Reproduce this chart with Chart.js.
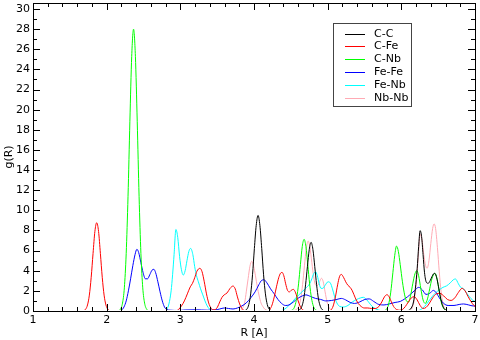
<!DOCTYPE html>
<html>
<head>
<meta charset="utf-8">
<script src="https://cdn.jsdelivr.net/npm/chart.js@4.4.1/dist/chart.umd.min.js"></script>
<style>
html,body{margin:0;padding:0;background:#fff;}
canvas{display:block;}
</style>
</head>
<body>
<canvas id="c" width="480" height="340"></canvas>
<script>
// ---- tick labels ----
const xTicks = [1, 2, 3, 4, 5, 6, 7];
const yTicks = [0, 2, 4, 6, 8, 10, 12, 14, 16, 18, 20, 22, 24, 26, 28, 30];
const xRange = [1, 7];
const yRange = [0, 30.6];

// ---- series: [R, g(R)] ----
const labels = ['C-C', 'C-Fe', 'C-Nb', 'Fe-Fe', 'Fe-Nb', 'Nb-Nb'];
const colors = ['#000000', '#ff0000', '#00ff00', '#0000ff', '#00ffff', 'rgb(255,170,180)'];

const CC = [[1.0,0],[3.855,0],[3.875,0.04],[3.905,0.2],[3.93,0.65],[3.955,1.7],[3.98,3.6],[4.005,6.2],[4.03,8.5],[4.055,9.5],[4.08,8.5],[4.105,6.2],[4.13,3.6],[4.155,1.7],[4.18,0.65],[4.205,0.2],[4.235,0.04],[4.275,0],
 [4.575,0],[4.595,0.03],[4.625,0.14],[4.65,0.47],[4.675,1.2],[4.70,2.6],[4.725,4.4],[4.75,6.1],[4.775,6.82],[4.80,6.1],[4.825,4.4],[4.85,2.6],[4.875,1.2],[4.90,0.47],[4.925,0.14],[4.955,0.03],[4.995,0],
 [6.075,0],[6.095,0.05],[6.135,0.3],[6.165,0.9],[6.19,2.2],[6.215,4.2],[6.235,6.4],[6.255,7.98],[6.275,7.4],[6.295,5.6],[6.315,3.8],[6.34,2.85],[6.365,2.75],[6.39,3.0],[6.415,3.4],[6.435,3.68],[6.455,3.74],[6.48,3.3],[6.505,2.4],[6.53,1.4],[6.555,0.65],[6.58,0.25],[6.605,0.07],[6.645,0],[7.0,0]];

const CFe = [[1.0,0],[1.655,0],[1.685,0.03],[1.715,0.18],[1.74,0.6],[1.765,1.58],[1.79,3.35],[1.815,5.7],[1.84,7.9],[1.865,8.77],[1.89,7.9],[1.915,5.7],[1.94,3.35],[1.965,1.58],[1.99,0.6],[2.015,0.18],[2.045,0.03],[2.085,0],
 [2.935,0],[2.975,0.15],[3.015,0.5],[3.055,1.0],[3.095,1.7],[3.135,2.4],[3.165,2.75],[3.195,3.3],[3.225,3.95],[3.265,4.24],[3.295,3.9],[3.325,2.9],[3.355,1.7],[3.385,0.8],[3.415,0.3],[3.445,0.12],[3.475,0.15],[3.505,0.4],[3.535,0.9],[3.565,1.35],[3.595,1.6],[3.635,1.8],[3.675,2.25],[3.715,2.48],[3.745,2.2],[3.775,1.4],[3.805,0.7],[3.835,0.25],[3.865,0.05],[3.915,0],
 [4.185,0],[4.215,0.15],[4.245,0.6],[4.275,1.4],[4.305,2.4],[4.335,3.3],[4.36,3.75],[4.38,3.84],[4.405,3.5],[4.43,2.7],[4.455,2.05],[4.48,1.9],[4.505,2.05],[4.535,2.15],[4.565,1.8],[4.595,1.1],[4.625,0.5],[4.655,0.15],[4.695,0.02],[4.735,0],
 [5.015,0],[5.045,0.1],[5.075,0.5],[5.105,1.4],[5.135,2.6],[5.16,3.4],[5.185,3.64],[5.215,3.35],[5.245,2.9],[5.275,2.55],[5.305,2.35],[5.335,2.0],[5.375,1.3],[5.415,0.75],[5.455,0.45],[5.495,0.3],[5.545,0.3],[5.595,0.25],[5.645,0.25],[5.695,0.45],[5.735,0.9],[5.77,1.4],[5.805,1.62],[5.835,1.4],[5.865,0.9],[5.895,0.45],[5.935,0.15],[5.975,0.08],[6.015,0.15],[6.055,0.45],[6.095,0.9],[6.135,1.3],[6.175,1.42],[6.215,1.1],[6.255,0.55],[6.295,0.25],[6.335,0.35],[6.375,0.7],[6.425,1.3],[6.475,1.7],[6.525,1.75],[6.575,1.5],[6.625,1.15],[6.675,1.05],[6.725,1.3],[6.775,1.85],[6.825,2.25],[6.865,2.0],[6.905,1.45],[6.945,0.95],[6.985,0.55],[7.0,0.45]];

const CNb = [[1.0,0],[2.145,0],[2.185,0.16],[2.215,0.78],[2.24,2.3],[2.265,5.7],[2.29,11.4],[2.315,18.8],[2.34,25.3],[2.365,28.0],[2.39,25.3],[2.415,18.8],[2.44,11.4],[2.465,5.7],[2.49,2.3],[2.515,0.78],[2.545,0.16],[2.585,0],
 [4.475,0],[4.50,0.04],[4.53,0.15],[4.555,0.5],[4.58,1.3],[4.605,2.7],[4.63,4.6],[4.655,6.4],[4.68,7.12],[4.705,6.4],[4.73,4.6],[4.755,2.7],[4.78,1.3],[4.805,0.5],[4.83,0.15],[4.86,0.04],[4.895,0],
 [5.735,0],[5.765,0.03],[5.795,0.15],[5.825,0.6],[5.855,1.8],[5.885,3.8],[5.91,5.5],[5.935,6.45],[5.96,5.9],[5.985,4.6],[6.015,2.9],[6.045,1.6],[6.075,0.95],[6.10,0.9],[6.125,1.5],[6.155,2.7],[6.185,3.7],[6.21,4.0],[6.235,3.5],[6.265,2.2],[6.295,1.1],[6.325,0.75],[6.355,1.2],[6.385,2.2],[6.415,3.2],[6.455,3.74],[6.485,3.2],[6.515,1.9],[6.545,0.8],[6.575,0.25],[6.605,0.06],[6.645,0],[7.0,0]];

const FeFe = [[1.0,0],[2.165,0],[2.205,0.1],[2.235,0.4],[2.265,1.0],[2.295,2.0],[2.325,3.2],[2.355,4.5],[2.385,5.6],[2.41,6.13],[2.435,5.8],[2.465,4.8],[2.495,3.8],[2.525,3.2],[2.555,3.2],[2.585,3.6],[2.615,4.05],[2.64,4.14],[2.665,3.8],[2.695,2.9],[2.725,1.9],[2.755,1.0],[2.785,0.4],[2.815,0.15],[2.865,0.08],[2.965,0.05],[3.065,0.1],[3.215,0.12],[3.365,0.08],[3.465,0.1],[3.535,0.2],[3.595,0.3],[3.655,0.25],[3.715,0.2],[3.775,0.3],[3.835,0.5],[3.895,0.8],[3.955,1.3],[4.015,1.9],[4.065,2.6],[4.105,3.05],[4.135,3.1],[4.175,2.8],[4.225,2.2],[4.275,1.7],[4.325,1.15],[4.375,0.75],[4.425,0.55],[4.475,0.6],[4.535,0.9],[4.595,1.25],[4.655,1.5],[4.705,1.6],[4.765,1.45],[4.835,1.25],[4.905,1.15],[4.975,1.0],[5.055,1.05],[5.125,1.15],[5.185,1.25],[5.245,1.1],[5.305,0.85],[5.365,0.75],[5.435,0.9],[5.505,1.15],[5.565,1.2],[5.625,0.95],[5.695,0.65],[5.765,0.6],[5.835,0.7],[5.915,0.85],[5.985,0.95],[6.055,1.25],[6.115,1.6],[6.175,2.0],[6.235,2.35],[6.285,2.1],[6.335,1.65],[6.385,1.75],[6.435,2.05],[6.475,1.8],[6.525,1.2],[6.575,0.75],[6.635,0.55],[6.715,0.55],[6.785,0.65],[6.845,0.7],[6.915,0.6],[6.975,0.5],[7.0,0.5]];

const FeNb = [[1.0,0],[2.785,0],[2.815,0.15],[2.845,0.7],[2.875,2.0],[2.895,3.6],[2.915,5.6],[2.94,8.1],[2.965,7.3],[2.99,5.4],[3.015,4.1],[3.04,3.57],[3.065,4.0],[3.09,5.0],[3.115,5.9],[3.14,6.22],[3.17,5.6],[3.195,4.4],[3.22,3.5],[3.245,2.9],[3.275,2.2],[3.305,1.6],[3.335,1.0],[3.365,0.5],[3.395,0.2],[3.435,0.05],[3.475,0],
 [4.355,0],[4.395,0.1],[4.445,0.35],[4.495,0.7],[4.555,1.2],[4.615,1.65],[4.665,2.0],[4.715,2.35],[4.755,2.7],[4.785,3.2],[4.81,3.7],[4.835,3.9],[4.86,3.5],[4.885,2.7],[4.91,2.25],[4.935,2.25],[4.965,2.55],[5.005,2.9],[5.035,2.8],[5.065,2.2],[5.095,1.4],[5.125,0.8],[5.165,0.45],[5.215,0.4],[5.275,0.55],[5.335,0.9],[5.395,1.15],[5.445,1.3],[5.485,1.36],[5.525,1.15],[5.565,0.8],[5.605,0.45],[5.655,0.2],[5.715,0.05],[5.775,0],
 [6.215,0],[6.265,0.15],[6.315,0.45],[6.365,0.9],[6.415,1.4],[6.465,1.8],[6.515,2.1],[6.565,2.35],[6.615,2.5],[6.665,2.8],[6.705,3.1],[6.735,3.18],[6.775,2.7],[6.805,2.35],[6.845,2.2],[6.885,1.8],[6.925,1.4],[6.965,1.1],[7.0,0.95]];

const NbNb = [[1.0,0],[3.795,0],[3.825,0.1],[3.85,0.35],[3.875,0.9],[3.895,1.9],[3.92,3.2],[3.945,4.45],[3.97,4.95],[3.995,4.45],[4.02,3.5],[4.045,2.4],[4.07,1.5],[4.095,0.8],[4.12,0.45],[4.145,0.2],[4.185,0.05],[4.225,0],
 [4.515,0],[4.545,0.05],[4.575,0.15],[4.61,0.5],[4.635,1.25],[4.66,2.65],[4.685,4.5],[4.71,6.2],[4.735,6.95],[4.76,6.3],[4.785,4.8],[4.81,3.4],[4.835,2.6],[4.865,2.55],[4.89,2.9],[4.915,3.25],[4.94,2.9],[4.965,1.9],[4.99,0.95],[5.015,0.4],[5.045,0.12],[5.085,0],
 [6.095,0],[6.125,0.1],[6.155,0.45],[6.18,1.3],[6.205,3.0],[6.23,5.4],[6.255,7.6],[6.28,7.1],[6.305,5.6],[6.33,4.5],[6.35,4.25],[6.375,5.0],[6.40,6.7],[6.425,8.2],[6.445,8.65],[6.465,8.2],[6.49,6.3],[6.515,3.9],[6.54,1.9],[6.565,0.75],[6.59,0.25],[6.625,0.05],[6.665,0],[7.0,0]];

const series = [CC, CFe, CNb, FeFe, FeNb, NbNb];

const FONT = 'DejaVu Sans';

// frame, inward ticks and legend box
const decor = {
  id: 'decor',
  afterDatasetsDraw(chart) {
    const {ctx, chartArea: a, scales: {x, y}} = chart;
    ctx.save();
    ctx.strokeStyle = '#000';
    ctx.lineWidth = 1;
    ctx.beginPath();
    for (let i = 0; i <= 30; i++) {
      const v = xRange[0] + i * 0.2;
      const px = Math.round(x.getPixelForValue(v)) + 0.5;
      const len = (i % 5 === 0) ? 7 : 4;
      ctx.moveTo(px, a.bottom); ctx.lineTo(px, a.bottom - len);
      ctx.moveTo(px, a.top); ctx.lineTo(px, a.top + len);
    }
    for (let v = 0; v <= 30; v++) {
      const py = Math.round(y.getPixelForValue(v)) + 0.5;
      const len = (v % 2 === 0) ? 7 : 4;
      ctx.moveTo(a.left, py); ctx.lineTo(a.left + len, py);
      ctx.moveTo(a.right, py); ctx.lineTo(a.right - len, py);
    }
    ctx.stroke();
    ctx.strokeRect(Math.round(a.left) + 0.5, Math.round(a.top) + 0.5,
                   Math.round(a.right - a.left), Math.round(a.bottom - a.top));
    // legend
    const bx = 333.5, by = 23.5, bw = 78, bh = 83;
    ctx.fillStyle = '#fff';
    ctx.fillRect(bx, by, bw, bh);
    ctx.strokeStyle = '#444';
    ctx.strokeRect(bx, by, bw, bh);
    ctx.font = '11px "' + FONT + '"';
    ctx.textBaseline = 'middle';
    ctx.textAlign = 'left';
    chart.data.datasets.forEach((ds, i) => {
      const ry = Math.round(by + 10 + i * 12.8) + 0.5;
      ctx.strokeStyle = ds.borderColor;
      ctx.beginPath();
      ctx.moveTo(345, ry); ctx.lineTo(365, ry);
      ctx.stroke();
      ctx.fillStyle = '#000';
      ctx.fillText(ds.label, 374, ry);
    });
    ctx.restore();
  }
};

new Chart(document.getElementById('c'), {
  type: 'line',
  data: {
    datasets: series.map((s, i) => ({
      label: labels[i],
      data: s.map(p => ({x: p[0], y: p[1]})),
      borderColor: colors[i],
      backgroundColor: colors[i],
      borderWidth: 1,
      pointRadius: 0,
      fill: false,
      clip: {left: 0, top: 0, right: 0, bottom: -1},
      cubicInterpolationMode: 'monotone'
    }))
  },
  options: {
    responsive: false,
    animation: false,
    devicePixelRatio: 1,
    layout: {padding: {left: 0, right: 5, top: 3, bottom: 0}},
    plugins: {legend: {display: false}, tooltip: {enabled: false}},
    scales: {
      x: {
        type: 'linear',
        min: xRange[0], max: xRange[1],
        grid: {display: false, drawTicks: false},
        border: {display: false},
        afterBuildTicks: s => { s.ticks = xTicks.map(v => ({value: v})); },
        afterFit: s => { s.height = 29; s.paddingLeft = 0; s.paddingRight = 0; },
        ticks: {color: '#000', font: {family: FONT, size: 11}, padding: 3, maxRotation: 0, autoSkip: false},
        title: {display: true, text: 'R [A]', color: '#000', font: {family: FONT, size: 11}, padding: {top: 2, bottom: 0}}
      },
      y: {
        type: 'linear',
        min: yRange[0], max: yRange[1],
        grid: {display: false, drawTicks: false},
        border: {display: false},
        afterBuildTicks: s => { s.ticks = yTicks.map(v => ({value: v})); },
        afterFit: s => { s.width = 33; s.paddingTop = 0; s.paddingBottom = 0; },
        ticks: {color: '#000', font: {family: FONT, size: 11}, padding: 3, autoSkip: false},
        title: {display: true, text: 'g(R)', color: '#000', font: {family: FONT, size: 11}, padding: {top: 3, bottom: 0}}
      }
    }
  },
  plugins: [decor]
});
</script>
</body>
</html>
